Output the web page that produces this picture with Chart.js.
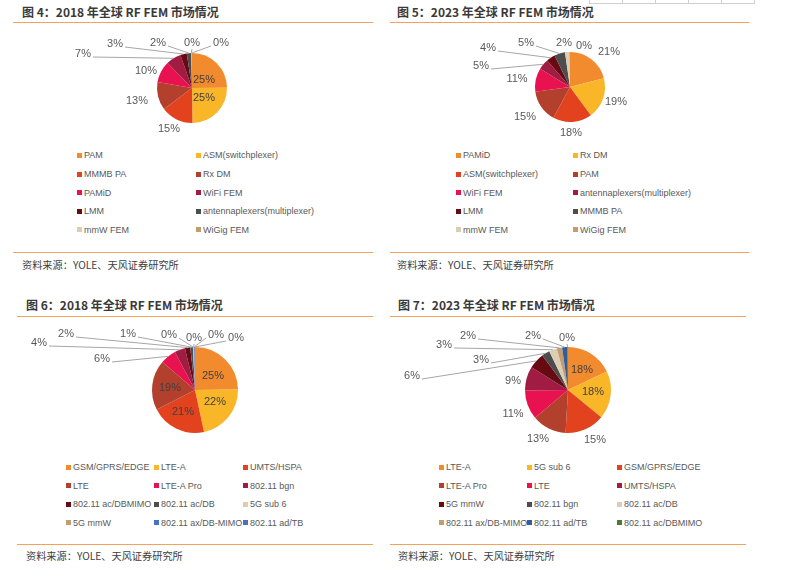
<!DOCTYPE html>
<html lang="zh-CN">
<head>
<meta charset="UTF-8">
<title>全球 RF FEM 市场情况</title>
<script src="https://cdn.jsdelivr.net/npm/chart.js"></script>
<style>
  body { margin:0; width:794px; height:577px; background:#fff; position:relative; overflow:hidden;
         font-family:"Noto Sans CJK SC", sans-serif; }
  .title { position:absolute; font-size:12px; font-weight:bold; color:#3a3a3a; white-space:nowrap;
           line-height:14px; transform:translateY(-50%); }
  .rule { position:absolute; height:0; border-top:1.5px solid #f2a25c; }
  .src { position:absolute; font-size:10.2px; color:#404040; white-space:nowrap; line-height:12px;
         transform:translateY(-50%); }
  .leg { position:absolute; display:flex; align-items:center; font:9px "Liberation Sans", Arial, sans-serif;
         color:#595959; white-space:nowrap; line-height:10px; transform:translateY(-50%); }
  .leg i { display:inline-block; width:5px; height:5px; margin-right:2px; }
  .pie { position:absolute; }
  .tbl { position:absolute; left:589px; top:-20px; height:22px; display:flex; border:1px solid #cfcfcf; }
  .tbl span { width:32px; border-right:1px solid #cfcfcf; }
  .tbl span:last-child { border-right:none; }
</style>
</head>
<body>

<div class="tbl"><span></span><span></span><span></span><span></span><span></span></div>

<script>
    // 图 4: 2018
    const cats4 = ['PAM', 'ASM(switchplexer)', 'MMMB PA', 'Rx DM', 'PAMiD', 'WiFi FEM', 'LMM',
                   'antennaplexers(multiplexer)', 'mmW FEM', 'WiGig FEM'];
    const vals4 = [25, 25, 15, 13, 10, 7, 3, 2, 0.2, 0.2];

    // 图 5: 2023
    const cats5 = ['PAMiD', 'Rx DM', 'ASM(switchplexer)', 'PAM', 'WiFi FEM', 'antennaplexers(multiplexer)',
                   'LMM', 'MMMB PA', 'mmW FEM', 'WiGig FEM'];
    const vals5 = [21, 19, 18, 15, 11, 5, 4, 5, 2, 0.3];

    // 图 6: 2018
    const cats6 = ['GSM/GPRS/EDGE', 'LTE-A', 'UMTS/HSPA', 'LTE', 'LTE-A Pro', '802.11 bgn',
                   '802.11 ac/DBMIMO', '802.11 ac/DB', '5G sub 6', '5G mmW', '802.11 ax/DB-MIMO', '802.11 ad/TB'];
    const vals6 = [25, 22, 21, 19, 6, 4, 2, 1, 0.2, 0.2, 0.2, 0.2];

    // 图 7: 2023
    const cats7 = ['LTE-A', '5G sub 6', 'GSM/GPRS/EDGE', 'LTE-A Pro', 'LTE', 'UMTS/HSPA', '5G mmW',
                   '802.11 bgn', '802.11 ac/DB', '802.11 ax/DB-MIMO', '802.11 ad/TB', '802.11 ac/DBMIMO'];
    const vals7 = [18, 18, 15, 13, 11, 9, 6, 3, 3, 2, 2, 0.2];

    const source = '资料来源：YOLE、天风证券研究所';

    // colours
    const warm = ['#f28a2e', '#f9b628', '#e2431e', '#b2402c', '#e81250', '#a01c42', '#680a12',
                  '#4d4d4d', '#dccdb5', '#c49c6d'];
    const colors6 = warm.concat(['#4472c4', '#4a70c0']);
    const colors7 = warm.concat(['#2e5e9c', '#4e7a2c']);

    // label offsets from pie centre: [dx, dy, kind]  kind: 'in' | 'out' | 'lead'
    const lab4 = [[12,-8,'in'], [12,10,'in'], [-23,41,'out'], [-55,13,'out'], [-46,-17,'out'],
                  [-109,-34,'lead'], [-77,-44,'lead'], [-34,-45,'lead'], [0,-45,'lead'], [29,-45,'lead']];
    const lab5 = [[39,-35,'out'], [46,15,'out'], [1,46,'out'], [-45,30,'out'], [-53,-8,'out'],
                  [-89,-21,'lead'], [-82,-39,'lead'], [-44,-44,'lead'], [-6,-44,'out'], [14,-41,'out']];
    const lab6 = [[18,-14,'in'], [20,12,'in'], [-12,22,'in'], [-25,-2,'in'], [-93,-31,'lead'],
                  [-156,-47,'lead'], [-129,-56,'lead'], [-67,-56,'lead'], [-26,-55,'lead'], [-1,-52,'lead'],
                  [21,-55,'lead'], [41,-52,'lead']];
    const lab7 = [[14,-20,'in'], [25,2,'in'], [27,50,'out'], [-30,49,'out'], [-55,24,'out'],
                  [-55,-9,'out'], [-156,-14,'lead'], [-87,-30,'lead'], [-124,-45,'lead'], [-100,-54,'lead'],
                  [-35,-54,'lead'], [-1,-52,'lead']];

    const figs = [
        { title: '图 4：2018 年全球 RF FEM 市场情况', cats: cats4, vals: vals4, colors: warm, labels: lab4,
          tx: 22, ty: 12, x0: 13, x1: 373, ruleTop: 22, ruleBot: 252, srcY: 265,
          cx: 192, cy: 88, r: 35, cols: [77, 196], rows: [155, 174, 192.5, 211, 229.5] },
        { title: '图 5：2023 年全球 RF FEM 市场情况', cats: cats5, vals: vals5, colors: warm, labels: lab5,
          tx: 397, ty: 12, x0: 390, x1: 749, ruleTop: 22, ruleBot: 252, srcY: 265,
          cx: 570, cy: 87, r: 35, cols: [456, 573], rows: [155, 174, 192.5, 211, 229.5] },
        { title: '图 6：2018 年全球 RF FEM 市场情况', cats: cats6, vals: vals6, colors: colors6, labels: lab6,
          tx: 26, ty: 305, x0: 17, x1: 373, ruleTop: 316, ruleBot: 544, srcY: 556,
          cx: 195, cy: 390, r: 43, cols: [66, 154, 243], rows: [467, 485.5, 504, 522.5] },
        { title: '图 7：2023 年全球 RF FEM 市场情况', cats: cats7, vals: vals7, colors: colors7, labels: lab7,
          tx: 398, ty: 305, x0: 390, x1: 746, ruleTop: 316, ruleBot: 544, srcY: 556,
          cx: 568, cy: 390, r: 43, cols: [439, 527, 617], rows: [467, 485.5, 504, 522.5] }
    ];

    // percentage labels + leader lines, drawn from the arc geometry
    const pieLabels = {
        id: 'pieLabels',
        afterDatasetsDraw(chart, args, opts) {
            const ctx = chart.ctx;
            const arcs = chart.getDatasetMeta(0).data;
            const vals = chart.data.datasets[0].data;
            ctx.save();
            ctx.font = '11px "Liberation Sans", Arial, sans-serif';
            ctx.textAlign = 'center';
            ctx.textBaseline = 'middle';
            arcs.forEach((arc, i) => {
                const p = opts.pos[i];
                const x = arc.x + p[0], y = arc.y + p[1];
                const text = Math.round(vals[i]) + '%';
                if (p[2] === 'lead') {
                    const mid = (arc.startAngle + arc.endAngle) / 2;
                    const ex = arc.x + Math.cos(mid) * arc.outerRadius;
                    const ey = arc.y + Math.sin(mid) * arc.outerRadius;
                    const w = ctx.measureText(text).width;
                    let sx = x, sy = y + 6;
                    if (ex > x + w / 2 + 2) { sx = x + w / 2 + 2; sy = y + 3; }
                    else if (ex < x - w / 2 - 2) { sx = x - w / 2 - 2; sy = y + 3; }
                    ctx.strokeStyle = '#a6a6a6';
                    ctx.lineWidth = 1;
                    ctx.beginPath();
                    ctx.moveTo(sx, sy);
                    ctx.lineTo(ex, ey);
                    ctx.stroke();
                }
                ctx.fillStyle = p[2] === 'in' ? '#404040' : '#595959';
                ctx.fillText(text, x, y);
            });
            ctx.restore();
        }
    };

    function addDiv(cls, left, top, html) {
        const d = document.createElement('div');
        d.className = cls;
        d.style.left = left + 'px';
        d.style.top = top + 'px';
        if (html !== undefined) d.innerHTML = html;
        document.body.appendChild(d);
        return d;
    }

    figs.forEach(f => {
        addDiv('title', f.tx, f.ty, f.title);
        addDiv('rule', f.x0, f.ruleTop).style.width = (f.x1 - f.x0) + 'px';
        addDiv('rule', f.x0, f.ruleBot).style.width = (f.x1 - f.x0) + 'px';
        addDiv('src', f.tx, f.srcY, source);

        const n = f.cols.length;
        f.cats.forEach((c, i) => {
            addDiv('leg', f.cols[i % n], f.rows[Math.floor(i / n)],
                   '<i style="background:' + f.colors[i] + '"></i>' + c);
        });

        const W = 380, H = 140;
        const box = addDiv('pie', f.cx - W / 2, f.cy - H / 2);
        const cv = document.createElement('canvas');
        cv.width = W;
        cv.height = H;
        box.appendChild(cv);

        new Chart(cv, {
            type: 'pie',
            data: {
                labels: f.cats,
                datasets: [{ data: f.vals, backgroundColor: f.colors, borderWidth: 0, radius: f.r }]
            },
            options: {
                responsive: false,
                animation: false,
                events: [],
                plugins: {
                    legend: { display: false },
                    tooltip: { enabled: false },
                    pieLabels: { pos: f.labels }
                }
            },
            plugins: [pieLabels]
        });
    });
</script>
</body>
</html>
